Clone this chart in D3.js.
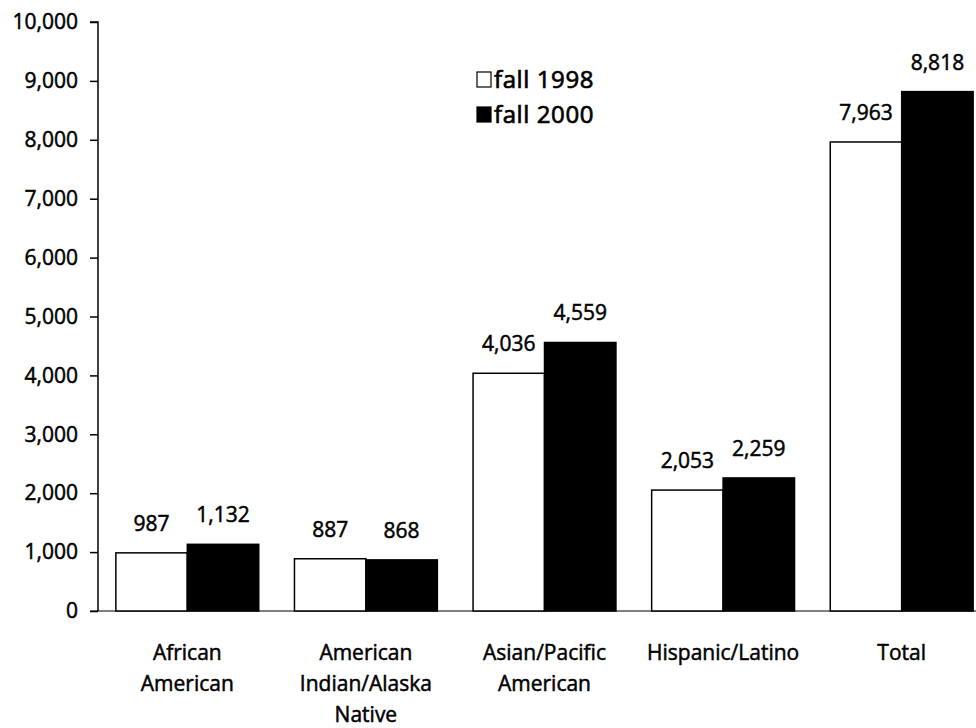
<!DOCTYPE html>
<html>
<head>
<meta charset="utf-8">
<script src="https://cdn.jsdelivr.net/npm/d3@7"></script>
<style>
  html, body { margin: 0; padding: 0; background: #fff; }
  svg text { font-family: "Open Sans", sans-serif; fill: #000; stroke: #000; stroke-width: 0.5px; }
  svg text.legend-label { stroke-width: 0.7px; }
</style>
</head>
<body>
<svg id="chart" width="976" height="728"></svg>
<script>
// Enrollment by group, fall 1998 vs fall 2000
const categories = [
  ["African", "American"],
  ["American", "Indian/Alaska", "Native"],
  ["Asian/Pacific", "American"],
  ["Hispanic/Latino"],
  ["Total"]
];
const seriesNames = ["fall 1998", "fall 2000"];
const fall1998 = [987, 887, 4036, 2053, 7963];
const fall2000 = [1132, 868, 4559, 2259, 8818];
const yTicks = [0, 1000, 2000, 3000, 4000, 5000, 6000, 7000, 8000, 9000, 10000];

const svg = d3.select("#chart");
const plotLeft = 98, plotRight = 991, plotTop = 22, plotBottom = 611;

const keys = categories.map(c => c.join(" "));
const x = d3.scaleBand().domain(keys).range([plotLeft, plotRight]).paddingInner(0.2).paddingOuter(0.1);
const xs = d3.scaleBand().domain(seriesNames).range([0, x.bandwidth()]);
const y = d3.scaleLinear().domain([0, 10000]).range([plotBottom, plotTop]);
const fills = ["#fff", "#000"];
const fmt = d3.format(",");

// y axis
const yAxis = d3.axisLeft(y).tickValues(yTicks).tickFormat(fmt).tickSize(8).tickPadding(12);
const gy = svg.append("g").attr("transform", `translate(${plotLeft},0)`).call(yAxis);
gy.select(".domain").attr("stroke", "#000").attr("stroke-width", 1.5).attr("d", `M-8,${plotTop}H0V${plotBottom}`);
gy.selectAll(".tick line").attr("stroke", "#000").attr("stroke-width", 1.5);
gy.selectAll(".tick text").style("font-size", "21px").style("font-family", "'Open Sans', sans-serif");

// baseline
svg.append("line").attr("x1", plotLeft - 8).attr("x2", 976).attr("y1", y(0)).attr("y2", y(0))
  .attr("stroke", "#000").attr("stroke-width", 1.2);

// bars
const rows = keys.map((k, i) => ({ key: k, lines: categories[i], vals: [fall1998[i], fall2000[i]] }));
const groups = svg.append("g").selectAll("g").data(rows).join("g")
  .attr("transform", d => `translate(${x(d.key)},0)`);

groups.selectAll("rect").data(d => d.vals.map((v, j) => ({ v, s: seriesNames[j], j })))
  .join("rect")
  .attr("x", d => xs(d.s))
  .attr("width", xs.bandwidth())
  .attr("y", d => y(d.v))
  .attr("height", d => y(0) - y(d.v))
  .attr("fill", d => fills[d.j])
  .attr("stroke", "#000").attr("stroke-width", 1.5);

groups.selectAll("text.val").data(d => d.vals.map((v, j) => ({ v, s: seriesNames[j] })))
  .join("text").attr("class", "val")
  .attr("x", d => xs(d.s) + xs.bandwidth() / 2)
  .attr("y", d => y(d.v) - 22)
  .attr("text-anchor", "middle")
  .style("font-size", "21px")
  .text(d => fmt(d.v));

// category labels
groups.append("text")
  .attr("text-anchor", "middle")
  .style("font-size", "21px")
  .selectAll("tspan").data(d => d.lines).join("tspan")
  .attr("x", x.bandwidth() / 2)
  .attr("y", (d, i) => 660 + i * 31)
  .text(d => d);

// legend
const legend = svg.append("g").attr("transform", "translate(477,72)");
seriesNames.forEach((s, i) => {
  const g = legend.append("g").attr("transform", `translate(0,${i * 35})`);
  g.append("rect").attr("width", 14).attr("height", 15).attr("fill", fills[i])
    .attr("stroke", "#000").attr("stroke-width", 1.2);
  g.append("text").attr("class", "legend-label").attr("x", 17).attr("y", 15.5)
    .style("font-size", "24px").style("letter-spacing", "0.6px").text(s);
});
</script>
</body>
</html>
